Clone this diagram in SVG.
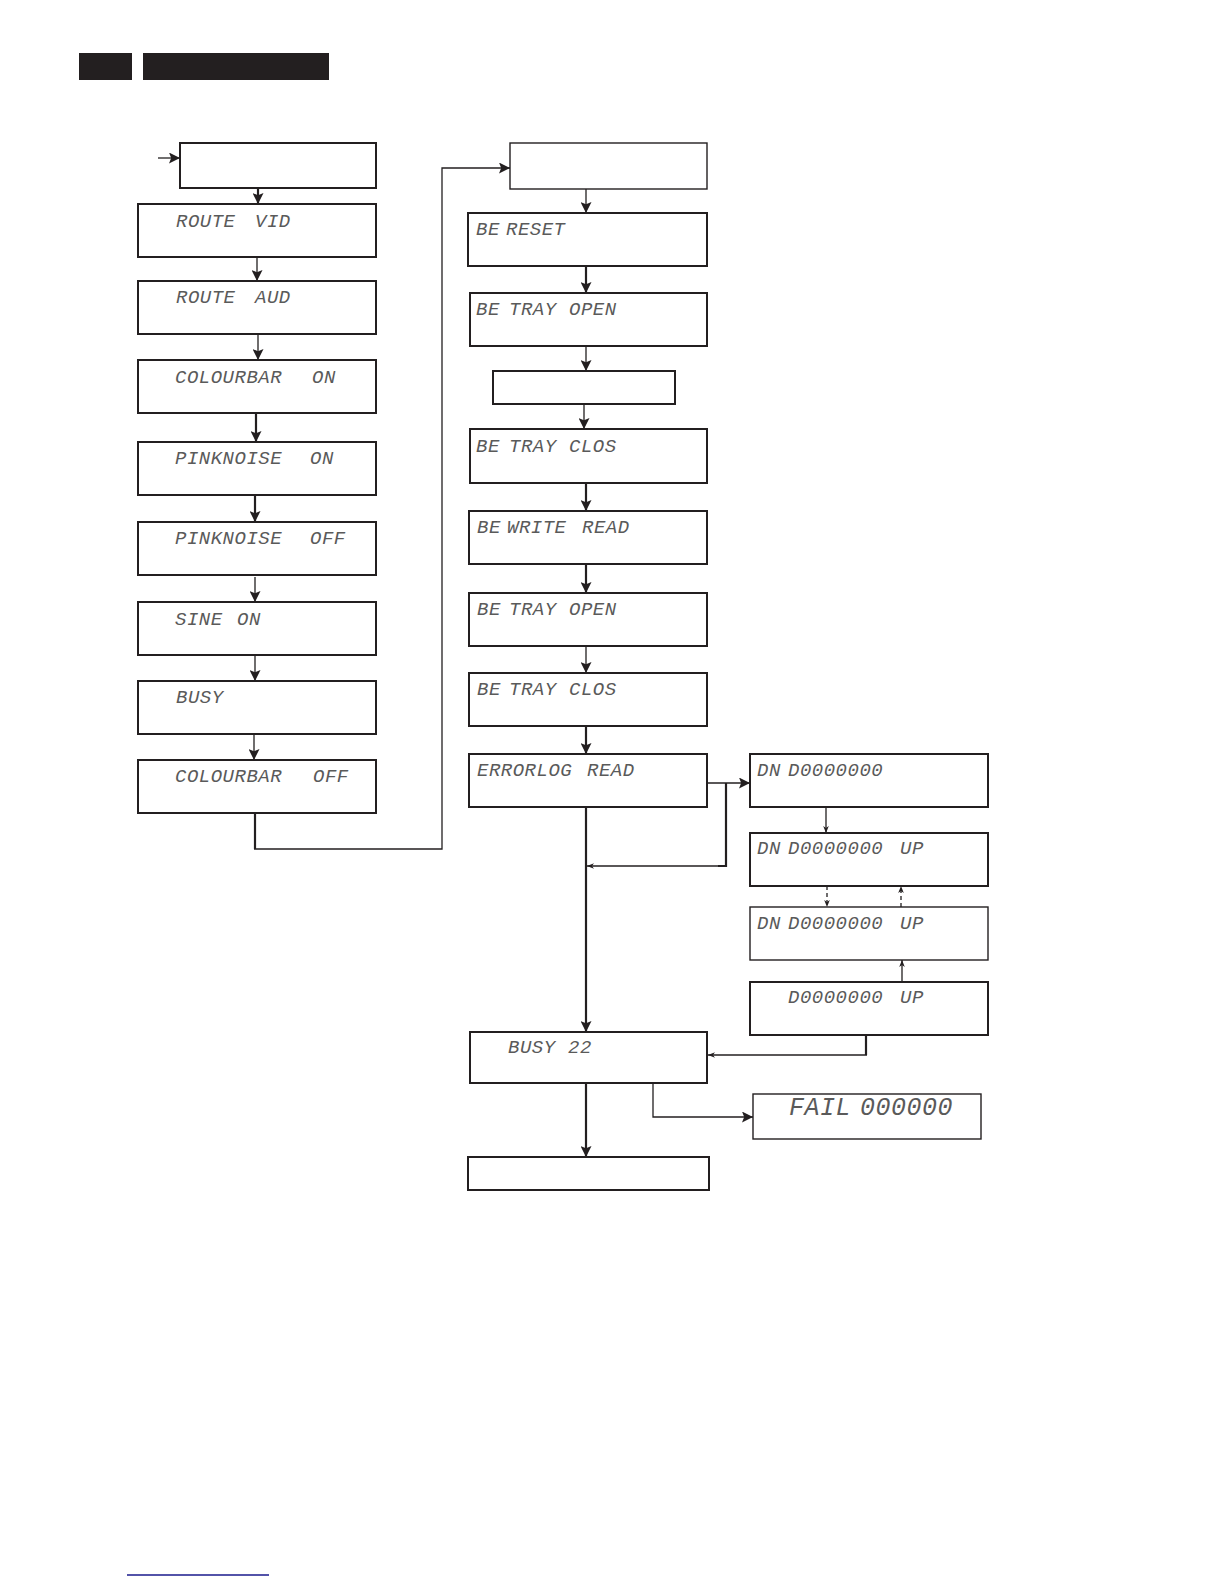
<svg xmlns="http://www.w3.org/2000/svg" width="1224" height="1584" viewBox="0 0 1224 1584">
<defs>
<style>
.box{fill:#fff;stroke:#231f20;stroke-width:2}
.thin{stroke-width:1.4}
.lcd{font-family:"Liberation Mono","DejaVu Sans Mono",monospace;font-style:italic;font-size:19px;fill:#5a5a5a;letter-spacing:0.5px}
.lcdbig{font-size:25px}
.c{fill:none;stroke:#231f20;stroke-width:1.3}
.ct{fill:none;stroke:#231f20;stroke-width:2.2}
.dash{stroke-dasharray:4 3}
</style>
<marker id="ah" viewBox="0 0 10 10" refX="10" refY="5" markerWidth="11" markerHeight="11" markerUnits="userSpaceOnUse" orient="auto">
<path d="M0,0 L10,5 L0,10 L2,5 z" fill="#231f20"/>
</marker>
<marker id="ahs" viewBox="0 0 10 10" refX="10" refY="5" markerWidth="7" markerHeight="7" markerUnits="userSpaceOnUse" orient="auto">
<path d="M0,1 L10,5 L0,9 L3,5 z" fill="#231f20"/>
</marker>
</defs>
<rect width="1224" height="1584" fill="#fff"/>
<g id="header">
<rect x="79" y="53" width="53" height="27" fill="#231f20"/>
<rect x="143" y="53" width="186" height="27" fill="#231f20"/>
</g>
<line x1="127" y1="1575" x2="269" y2="1575" stroke="#1a1a8c" stroke-width="1.3"/>

<g id="connectors">
<line class="c" x1="158" y1="158" x2="180" y2="158" marker-end="url(#ah)"/>
<line class="ct" x1="258" y1="180" x2="258" y2="204" marker-end="url(#ah)"/>
<line class="c" x1="257" y1="257" x2="257" y2="281" marker-end="url(#ah)"/>
<line class="c" x1="258" y1="334" x2="258" y2="360" marker-end="url(#ah)"/>
<line class="ct" x1="256" y1="413" x2="256" y2="442" marker-end="url(#ah)"/>
<line class="ct" x1="255" y1="495" x2="255" y2="522" marker-end="url(#ah)"/>
<line class="c" x1="255" y1="577" x2="255" y2="602" marker-end="url(#ah)"/>
<line class="c" x1="255" y1="655" x2="255" y2="681" marker-end="url(#ah)"/>
<line class="c" x1="254" y1="734" x2="254" y2="760" marker-end="url(#ah)"/>
<line class="ct" x1="255" y1="813" x2="255" y2="849"/>
<polyline class="c" points="254,849 442,849 442,168 510,168" marker-end="url(#ah)"/>
<line class="c" x1="586" y1="189" x2="586" y2="213" marker-end="url(#ah)"/>
<line class="ct" x1="586" y1="266" x2="586" y2="293" marker-end="url(#ah)"/>
<line class="c" x1="586" y1="346" x2="586" y2="371" marker-end="url(#ah)"/>
<line class="c" x1="584" y1="404" x2="584" y2="429" marker-end="url(#ah)"/>
<line class="ct" x1="586" y1="483" x2="586" y2="511" marker-end="url(#ah)"/>
<line class="ct" x1="586" y1="564" x2="586" y2="593" marker-end="url(#ah)"/>
<line class="c" x1="586" y1="646" x2="586" y2="673" marker-end="url(#ah)"/>
<line class="ct" x1="586" y1="726" x2="586" y2="754" marker-end="url(#ah)"/>
<line class="c" x1="707" y1="783" x2="750" y2="783" marker-end="url(#ah)"/>
<polyline class="ct" points="726,783 726,866 718,866"/>
<line class="c" x1="719" y1="866" x2="587" y2="866" marker-end="url(#ahs)"/>
<line class="ct" x1="586" y1="807" x2="586" y2="1032" marker-end="url(#ah)"/>
<line class="c" x1="826" y1="807" x2="826" y2="833" marker-end="url(#ahs)"/>
<line class="c dash" x1="827" y1="886" x2="827" y2="907" marker-end="url(#ahs)"/>
<line class="c dash" x1="901" y1="907" x2="901" y2="886" marker-end="url(#ahs)"/>
<line class="c" x1="902" y1="982" x2="902" y2="960" marker-end="url(#ahs)"/>
<line class="ct" x1="866" y1="1035" x2="866" y2="1055"/>
<line class="c" x1="867" y1="1055" x2="708" y2="1055" marker-end="url(#ahs)"/>
<line class="ct" x1="586" y1="1083" x2="586" y2="1157" marker-end="url(#ah)"/>
<polyline class="c" points="653,1083 653,1117 753,1117" marker-end="url(#ah)"/>
</g>

<g id="n-start"><rect class="box" x="180" y="143" width="196" height="45"/></g>
<g id="n-route-vid"><rect class="box" x="138" y="204" width="238" height="53"/>
<text class="lcd" y="227"><tspan x="176">ROUTE</tspan><tspan x="255">VID</tspan></text></g>
<g id="n-route-aud"><rect class="box" x="138" y="281" width="238" height="53"/>
<text class="lcd" y="303"><tspan x="176">ROUTE</tspan><tspan x="255">AUD</tspan></text></g>
<g id="n-colourbar-on"><rect class="box" x="138" y="360" width="238" height="53"/>
<text class="lcd" y="383"><tspan x="175">COLOURBAR</tspan><tspan x="312">ON</tspan></text></g>
<g id="n-pinknoise-on"><rect class="box" x="138" y="442" width="238" height="53"/>
<text class="lcd" y="464"><tspan x="175">PINKNOISE</tspan><tspan x="310">ON</tspan></text></g>
<g id="n-pinknoise-off"><rect class="box" x="138" y="522" width="238" height="53"/>
<text class="lcd" y="544"><tspan x="175">PINKNOISE</tspan><tspan x="310">OFF</tspan></text></g>
<g id="n-sine-on"><rect class="box" x="138" y="602" width="238" height="53"/>
<text class="lcd" y="625"><tspan x="175">SINE</tspan><tspan x="237">ON</tspan></text></g>
<g id="n-busy"><rect class="box" x="138" y="681" width="238" height="53"/>
<text class="lcd" x="176" y="703">BUSY</text></g>
<g id="n-colourbar-off"><rect class="box" x="138" y="760" width="238" height="53"/>
<text class="lcd" y="782"><tspan x="175">COLOURBAR</tspan><tspan x="313">OFF</tspan></text></g>

<g id="n-top-right"><rect class="box thin" x="510" y="143" width="197" height="46"/></g>
<g id="n-be-reset"><rect class="box" x="468" y="213" width="239" height="53"/>
<text class="lcd" y="235"><tspan x="476">BE</tspan><tspan x="506">RESET</tspan></text></g>
<g id="n-be-tray-open"><rect class="box" x="470" y="293" width="237" height="53"/>
<text class="lcd" y="315"><tspan x="476">BE</tspan><tspan x="509">TRAY</tspan><tspan x="569">OPEN</tspan></text></g>
<g id="n-small"><rect class="box" x="493" y="371" width="182" height="33"/></g>
<g id="n-be-tray-clos"><rect class="box" x="470" y="429" width="237" height="54"/>
<text class="lcd" y="452"><tspan x="476">BE</tspan><tspan x="509">TRAY</tspan><tspan x="569">CLOS</tspan></text></g>
<g id="n-be-write-read"><rect class="box" x="469" y="511" width="238" height="53"/>
<text class="lcd" y="533"><tspan x="477">BE</tspan><tspan x="507">WRITE</tspan><tspan x="582">READ</tspan></text></g>
<g id="n-be-tray-open-2"><rect class="box" x="469" y="593" width="238" height="53"/>
<text class="lcd" y="615"><tspan x="477">BE</tspan><tspan x="509">TRAY</tspan><tspan x="569">OPEN</tspan></text></g>
<g id="n-be-tray-clos-2"><rect class="box" x="469" y="673" width="238" height="53"/>
<text class="lcd" y="695"><tspan x="477">BE</tspan><tspan x="509">TRAY</tspan><tspan x="569">CLOS</tspan></text></g>
<g id="n-errorlog-read"><rect class="box" x="469" y="754" width="238" height="53"/>
<text class="lcd" y="776"><tspan x="477">ERRORLOG</tspan><tspan x="587">READ</tspan></text></g>

<g id="n-dn-1"><rect class="box" x="750" y="754" width="238" height="53"/>
<text class="lcd" y="776"><tspan x="757">DN</tspan><tspan x="788">D0000000</tspan></text></g>
<g id="n-dn-2"><rect class="box" x="750" y="833" width="238" height="53"/>
<text class="lcd" y="854"><tspan x="757">DN</tspan><tspan x="788">D0000000</tspan><tspan x="900">UP</tspan></text></g>
<g id="n-dn-3"><rect class="box thin" x="750" y="907" width="238" height="53"/>
<text class="lcd" y="929"><tspan x="757">DN</tspan><tspan x="788">D0000000</tspan><tspan x="900">UP</tspan></text></g>
<g id="n-up-4"><rect class="box" x="750" y="982" width="238" height="53"/>
<text class="lcd" y="1003"><tspan x="788">D0000000</tspan><tspan x="900">UP</tspan></text></g>

<g id="n-busy-22"><rect class="box" x="470" y="1032" width="237" height="51"/>
<text class="lcd" y="1053"><tspan x="508">BUSY</tspan><tspan x="568">22</tspan></text></g>
<g id="n-fail"><rect class="box thin" x="753" y="1094" width="228" height="45"/>
<text class="lcd lcdbig" y="1115"><tspan x="789">FAIL</tspan><tspan x="860">000000</tspan></text></g>
<g id="n-final"><rect class="box" x="468" y="1157" width="241" height="33"/></g>
</svg>
